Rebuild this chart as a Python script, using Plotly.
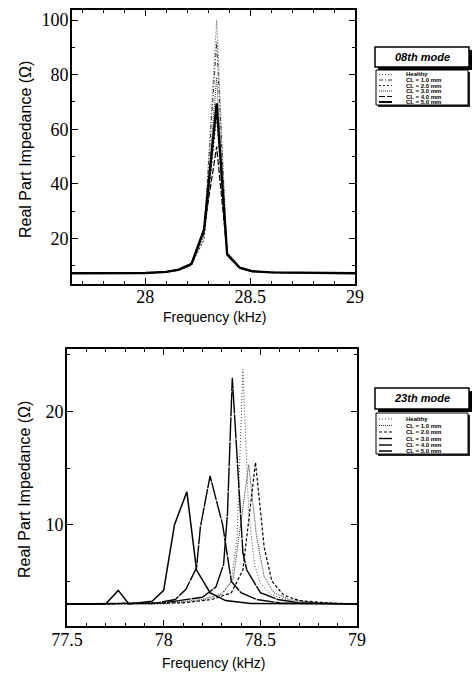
import plotly.graph_objects as go

W, H = 474, 675

# ---------------- data: 08th mode (top) ----------------
SERIES = ["Healthy", "CL = 1.0 mm", "CL = 2.0 mm", "CL = 3.0 mm", "CL = 4.0 mm", "CL = 5.0 mm"]

freq_08 = [27.6, 27.8, 28.0, 28.1, 28.16, 28.22, 28.28, 28.34, 28.39, 28.45, 28.51, 28.6, 28.7, 28.8, 29.0]
z08_healthy = [7.2, 7.2, 7.3, 7.6, 8.2, 10.0, 21.0, 100.0, 13.5, 8.8, 7.8, 7.4, 7.4, 7.2, 7.2]
z08_cl10 = [7.2, 7.2, 7.3, 7.6, 8.3, 10.2, 22.0, 92.0, 13.8, 9.0, 7.8, 7.4, 7.4, 7.2, 7.2]
z08_cl20 = [7.2, 7.2, 7.3, 7.7, 8.4, 10.4, 19.5, 64.6, 14.0, 9.1, 7.9, 7.5, 7.4, 7.2, 7.2]
z08_cl30 = [7.2, 7.2, 7.3, 7.6, 8.3, 10.3, 21.5, 79.0, 13.8, 9.0, 7.8, 7.4, 7.4, 7.2, 7.2]
z08_cl40 = [7.2, 7.2, 7.3, 7.8, 8.6, 10.8, 23.5, 53.6, 14.6, 9.4, 8.0, 7.5, 7.4, 7.2, 7.2]
z08_cl50 = [7.2, 7.2, 7.3, 7.7, 8.5, 10.6, 23.2, 69.5, 14.2, 9.2, 7.9, 7.5, 7.4, 7.2, 7.2]

# ---------------- data: 23th mode (bottom) ----------------
f23_healthy = [77.5, 78.0, 78.2, 78.3, 78.35, 78.38, 78.41, 78.44, 78.47, 78.5, 78.56, 78.65, 78.8, 79.0]
z23_healthy = [3.0, 3.0, 3.3, 3.8, 5.0, 9.0, 23.7, 11.0, 6.5, 4.8, 3.8, 3.3, 3.1, 3.0]

f23_cl10 = [77.5, 78.0, 78.2, 78.3, 78.36, 78.44, 78.48, 78.52, 78.57, 78.65, 78.8, 79.0]
z23_cl10 = [3.0, 3.05, 3.4, 3.9, 5.2, 15.3, 9.0, 5.4, 4.0, 3.4, 3.1, 3.0]

f23_cl20 = [77.5, 78.1, 78.25, 78.35, 78.41, 78.475, 78.52, 78.56, 78.62, 78.7, 78.85, 79.0]
z23_cl20 = [3.0, 3.1, 3.4, 4.0, 6.0, 15.5, 8.0, 5.0, 3.8, 3.3, 3.1, 3.0]

f23_cl30 = [77.5, 78.0, 78.2, 78.27, 78.31, 78.33, 78.355, 78.41, 78.43, 78.5, 78.59, 78.7, 79.0]
z23_cl30 = [3.0, 3.1, 3.6, 4.5, 6.5, 11.0, 22.95, 7.5, 6.0, 4.0, 3.4, 3.1, 3.0]

f23_cl40 = [77.5, 77.95, 78.06, 78.115, 78.17, 78.19, 78.24, 78.305, 78.35, 78.4, 78.48, 78.6, 79.0]
z23_cl40 = [3.0, 3.05, 3.4, 4.3, 6.2, 9.8, 14.3, 10.0, 5.0, 4.0, 3.4, 3.1, 3.0]

f23_cl50 = [77.5, 77.70, 77.765, 77.82, 77.94, 78.0, 78.056, 78.12, 78.17, 78.24, 78.32, 78.45, 79.0]
z23_cl50 = [3.0, 3.0, 4.2, 3.0, 3.25, 4.2, 10.0, 12.9, 6.0, 4.0, 3.3, 3.05, 3.0]

# tick values / labels
x08_ticks = [28, 28.5, 29]
x08_labels = ["28", "28.5", "29"]
y08_ticks = [20, 40, 60, 80, 100]
x23_ticks = [77.5, 78, 78.5, 79]
x23_labels = ["77.5", "78", "78.5", "79"]
y23_ticks = [10, 20]

# ---------------- styles ----------------
style08 = [
    dict(color="#444", width=1, dash="1px,2px"),
    dict(color="#333", width=1, dash="4px,2px,1px,2px"),
    dict(color="#222", width=1, dash="2px,2px"),
    dict(color="#333", width=1, dash="1px,1px"),
    dict(color="black", width=1.2, dash="6px,2px"),
    dict(color="black", width=2.4, dash="solid"),
]
style23 = [
    dict(color="#444", width=1, dash="1px,2px"),
    dict(color="#333", width=1, dash="1px,1px"),
    dict(color="black", width=1.2, dash="3px,2px"),
    dict(color="black", width=1.4, dash="24px,1px"),
    dict(color="black", width=1.4, dash="18px,1px"),
    dict(color="black", width=1.5, dash="solid"),
]

fig = go.Figure()

top_data = [z08_healthy, z08_cl10, z08_cl20, z08_cl30, z08_cl40, z08_cl50]
for name, z, st in zip(SERIES, top_data, style08):
    fig.add_trace(go.Scatter(x=freq_08, y=z, mode="lines", name=name, line=st,
                             xaxis="x", yaxis="y", showlegend=False))

bot_data = [(f23_healthy, z23_healthy), (f23_cl10, z23_cl10), (f23_cl20, z23_cl20),
            (f23_cl30, z23_cl30), (f23_cl40, z23_cl40), (f23_cl50, z23_cl50)]
for name, (f, z), st in zip(SERIES, bot_data, style23):
    fig.add_trace(go.Scatter(x=f, y=z, mode="lines", name=name, line=st,
                             xaxis="x2", yaxis="y2", showlegend=False))


def px(x):
    return x / W


def py(y):
    return 1 - y / H


tickfont = dict(family="Liberation Serif", size=18, color="black")
common = dict(showline=True, linecolor="black", linewidth=1.6, mirror="allticks",
              ticks="inside", ticklen=6, tickwidth=1.3, tickcolor="black",
              showgrid=False, zeroline=False, tickfont=tickfont, automargin=False)

fig.update_layout(
    template="none",
    width=W, height=H, margin=dict(l=0, r=0, t=0, b=0, pad=0),
    paper_bgcolor="white", plot_bgcolor="white", showlegend=False,
    xaxis=dict(domain=[px(72), px(355)], range=[27.65, 29.0], anchor="y",
               tickvals=x08_ticks, ticktext=x08_labels,
               minor=dict(dtick=0.1, tick0=28, ticks="inside", ticklen=3, tickcolor="black", tickwidth=1),
               ticklabelstandoff=-4, **common),
    yaxis=dict(domain=[py(284), py(10)], range=[3.25, 103.7], anchor="x",
               tickvals=y08_ticks,
               minor=dict(dtick=10, tick0=0, ticks="inside", ticklen=3, tickcolor="black", tickwidth=1),
               ticklabelstandoff=-2, **common),
    xaxis2=dict(domain=[px(67), px(357)], range=[77.5, 79.0], anchor="y2",
                tickvals=x23_ticks, ticktext=x23_labels,
                minor=dict(dtick=0.1, tick0=77.5, ticks="inside", ticklen=3, tickcolor="black", tickwidth=1),
                ticklabelstandoff=-3, **common),
    yaxis2=dict(domain=[py(626), py(349)], range=[1.06, 25.5], anchor="x2",
                tickvals=y23_ticks,
                minor=dict(dtick=5, tick0=0, ticks="inside", ticklen=3, tickcolor="black", tickwidth=1),
                ticklabelstandoff=-2, **common),
)

ann = []
shapes = []
label_font = dict(family="Liberation Sans", size=14, color="black")
ylabel_font = dict(family="Liberation Sans", size=16, color="black")

# axis titles
ann.append(dict(text="Real Part Impedance (Ω)", x=px(25), y=py(150), xref="paper", yref="paper",
                textangle=-90, showarrow=False, font=ylabel_font, xanchor="center", yanchor="middle"))
ann.append(dict(text="Real Part Impedance (Ω)", x=px(24), y=py(490), xref="paper", yref="paper",
                textangle=-90, showarrow=False, font=ylabel_font, xanchor="center", yanchor="middle"))
ann.append(dict(text="Frequency (kHz)", x=px(214), y=py(317), xref="paper", yref="paper",
                showarrow=False, font=label_font, xanchor="center", yanchor="middle"))
ann.append(dict(text="Frequency (kHz)", x=px(213), y=py(663), xref="paper", yref="paper",
                showarrow=False, font=label_font, xanchor="center", yanchor="middle"))


def panel_legend(title, tb, lb, entries_y, styles):
    # title box with shadow
    x0, y0, x1, y1 = tb
    shapes.append(dict(type="rect", xref="paper", yref="paper", x0=px(x0 + 3), x1=px(x1 + 3),
                       y0=py(y1 + 3), y1=py(y0 + 3), fillcolor="black", line=dict(width=0)))
    shapes.append(dict(type="rect", xref="paper", yref="paper", x0=px(x0), x1=px(x1),
                       y0=py(y1), y1=py(y0), fillcolor="white", line=dict(color="black", width=1.5)))
    ann.append(dict(text="<b><i>%s</i></b>" % title, x=px((x0 + x1) / 2), y=py((y0 + y1) / 2),
                    xref="paper", yref="paper", showarrow=False, xanchor="center", yanchor="middle",
                    font=dict(family="Liberation Sans", size=11, color="black")))
    # legend box with shadow
    x0, y0, x1, y1 = lb
    shapes.append(dict(type="rect", xref="paper", yref="paper", x0=px(x0 + 2), x1=px(x1 + 2),
                       y0=py(y1 + 2), y1=py(y0 + 2), fillcolor="#222", line=dict(width=0)))
    shapes.append(dict(type="rect", xref="paper", yref="paper", x0=px(x0), x1=px(x1),
                       y0=py(y1), y1=py(y0), fillcolor="white", line=dict(color="black", width=1)))
    for name, ey, st in zip(SERIES, entries_y, styles):
        shapes.append(dict(type="line", xref="paper", yref="paper", x0=px(x0 + 3), x1=px(x0 + 16),
                           y0=py(ey), y1=py(ey),
                           line=dict(color=st["color"], width=min(st["width"], 2), dash=st["dash"])))
        ann.append(dict(text="<b>%s</b>" % name, x=px(x0 + 28), y=py(ey), xref="paper", yref="paper",
                        showarrow=False, xanchor="left", yanchor="middle",
                        font=dict(family="Liberation Sans Narrow, Liberation Sans", size=6, color="black")))


panel_legend("08th mode", (375, 47, 469, 67), (376, 70, 468, 105),
             [74.5, 80, 85.5, 91, 96.5, 102], style08)
panel_legend("23th mode", (375, 388, 469, 409), (376, 413, 468, 454),
             [419, 425.5, 432, 438.5, 445, 451], style23)

fig.update_layout(annotations=ann, shapes=shapes)
fig.write_html("out.html", config={"displayModeBar": False},
               post_script="document.body.style.margin='0px';document.body.style.padding='0px';")
